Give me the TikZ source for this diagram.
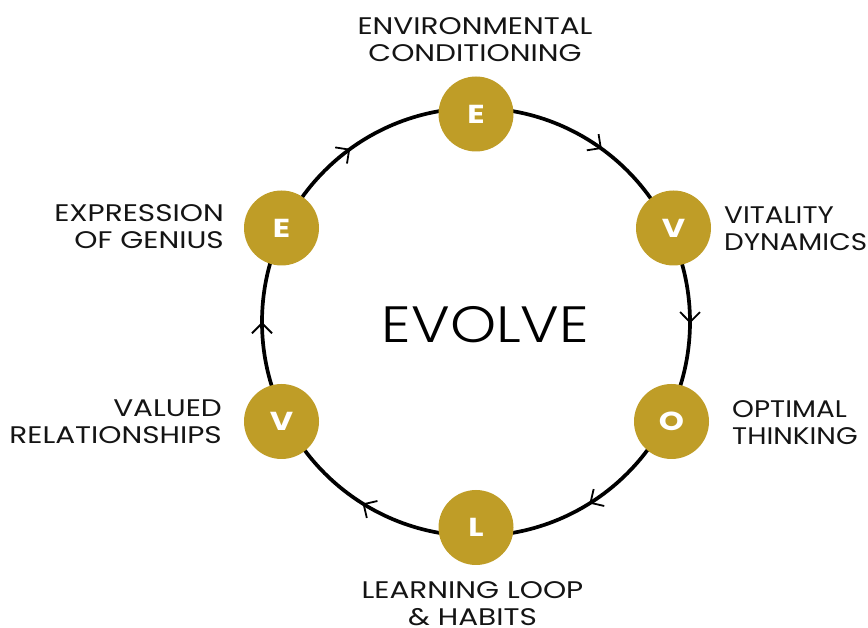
\documentclass[tikz,border=0pt]{standalone}
\usepackage{fontspec}
\setmainfont{Poppins}[FakeStretch=1.23]
\newfontfamily\narrowfont{Poppins}[FakeStretch=1.16]
\newfontfamily\lightfont{Poppins Light}[FakeStretch=1.15]
\usetikzlibrary{arrows.meta,decorations.markings}
\definecolor{gold}{HTML}{BF9D27}
\begin{document}
\begin{tikzpicture}[x=1pt,y=1pt,
  ring/.style={line width=3.7pt, draw=black},
  chevrons/.style={postaction={decorate}, decoration={markings,
    mark=at position 0.001 with {\arrow{Straight Barb[length=10pt,width=20pt,line width=1.8pt 0]}},
    mark=at position 0.1611 with {\arrow{Straight Barb[length=10pt,width=20pt,line width=1.8pt 0]}},
    mark=at position 0.3389 with {\arrow{Straight Barb[length=10pt,width=20pt,line width=1.8pt 0]}},
    mark=at position 0.5 with {\arrow{Straight Barb[length=10pt,width=20pt,line width=1.8pt 0]}},
    mark=at position 0.65 with {\arrow{Straight Barb[length=10pt,width=20pt,line width=1.8pt 0]}},
    mark=at position 0.85 with {\arrow{Straight Barb[length=10pt,width=20pt,line width=1.8pt 0]}}}},
  letter/.style={circle, fill=gold, minimum size=75pt, inner sep=0pt, text=white,
    font=\fontsize{26}{26}\selectfont\bfseries},
  lbl/.style={inner sep=0pt, font=\fontsize{24}{27}\selectfont, text=black!92},
  rlbl/.style={lbl, font=\narrowfont\fontsize{24}{27}\selectfont},
]
\useasboundingbox (0,0) rectangle (868,627);
\coordinate (c) at (476,305);
\draw[ring, chevrons] (c) ++(0:214) arc[start angle=0, end angle=-360, radius=214];

\node[letter] (e1) at (476,513) {E};
\node[letter] (v1) at (673.5,399) {V};
\node[letter] (o) at (671.5,205.5) {O};
\node[letter] (l) at (476,99.5) {L};
\node[letter] (v2) at (281.5,205.5) {V};
\node[letter] (e2) at (281.5,399) {E};

\node[lbl, anchor=north, align=center] (t1) at (475,610) {ENVIRONMENTAL\\CONDITIONING};
\node[rlbl, anchor=north west, align=left] (t2) at (724,420) {VITALITY\\DYNAMICS};
\node[rlbl, anchor=north west, align=left] (t3) at (732,227) {OPTIMAL\\THINKING};
\node[lbl, anchor=north, align=center] (t4) at (472.5,46) {LEARNING LOOP\\\& HABITS};
\node[lbl, anchor=north east, align=right] (t5) at (222,227) {VALUED\\RELATIONSHIPS};
\node[lbl, anchor=north east, align=right] (t6) at (224,423) {EXPRESSION\\OF GENIUS};

\node[inner sep=0pt, anchor=base, font=\lightfont\fontsize{51}{51}\selectfont] (title) at (485.5,284) {EVOLVE};
\end{tikzpicture}
\end{document}
